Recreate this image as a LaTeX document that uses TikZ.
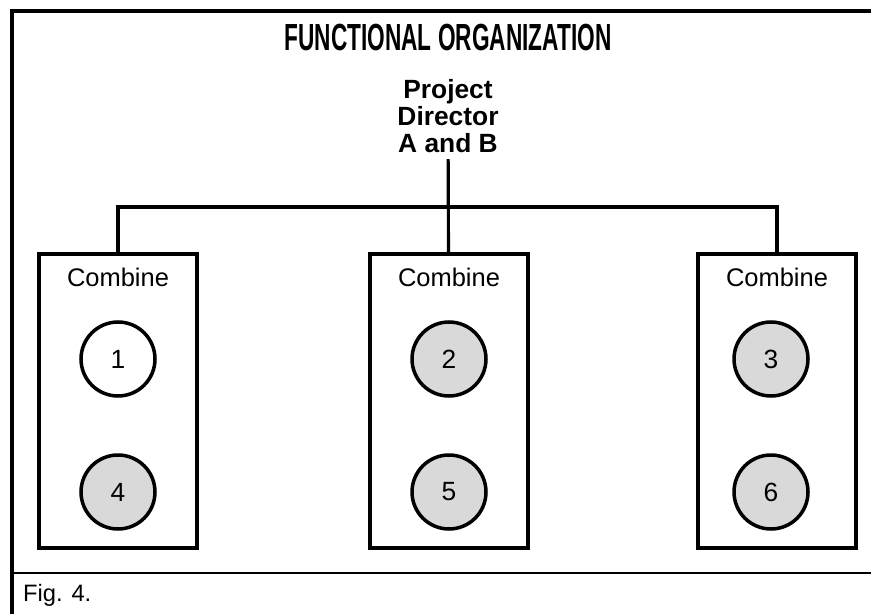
\documentclass[tikz,border=0pt]{standalone}
\usepackage{fontspec}
\setmainfont{Liberation Sans}
\newfontfamily\titlefont[FakeStretch=0.6]{Liberation Sans}
\usetikzlibrary{positioning}

\begin{document}
\begin{tikzpicture}[x=0.02cm,y=-0.02cm,
  unit/.style={draw,line width=2pt,minimum width=3.16cm,minimum height=5.88cm},
  crew/.style={circle,draw,line width=2pt,minimum size=1.48cm,font=\fontsize{15}{15}\selectfont},
  link/.style={line width=1.8pt}]
\useasboundingbox (0,0) rectangle (871,614);
% frame and caption rule
\draw[line width=1.8pt] (871,11) -- (12,11) -- (12,614);
\draw[line width=1.4pt] (12,573) -- (871,573);
\node (title) at (448,38) {\titlefont\bfseries\fontsize{21.5}{21.5}\selectfont FUNCTIONAL ORGANIZATION};
\node[align=center,font=\bfseries\fontsize{15}{15.5}\selectfont] (director) at (448,116) {Project\\Director\\A and B};
\foreach \n/\x/\cx/\a/\b/\fa in {A/118/118/1/4/white, B/449/449/2/5/gray!30, C/777/771/3/6/gray!30}{
  \node[unit] (box\n) at (\x,401) {};
  \node[font=\fontsize{14.5}{14.5}\selectfont] (lbl\n) at (\x,277) {Combine};
  \node[crew,fill=\fa] (c\a) at (\cx,359) {\a};
  \node[crew,fill=gray!30] (c\b) at (\cx,492) {\b};
}
\coordinate (bus) at (448,207);
\draw[link] (director) -- (boxB);
\draw[link] (boxA.north) -- (boxA.north |- bus) -- (boxC.north |- bus) -- (boxC.north);
\node[anchor=west,font=\fontsize{13.5}{13.5}\selectfont] (caption) at (17,595) {Fig. 4.};
\end{tikzpicture}
\end{document}
